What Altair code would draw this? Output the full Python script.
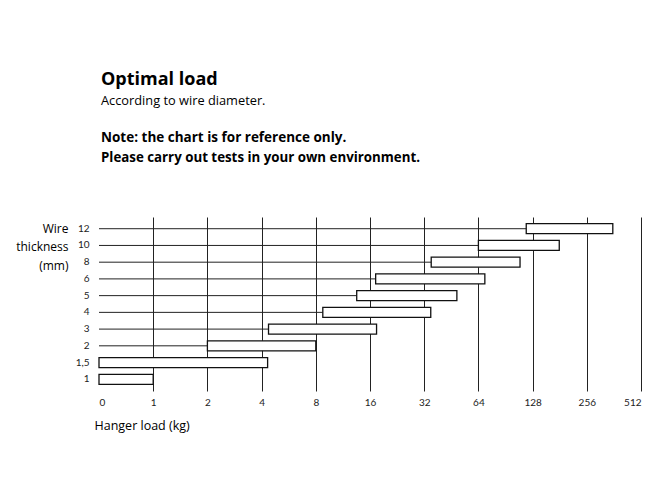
import altair as alt
import pandas as pd

# Wire thickness categories (top to bottom) and hanger load range (kg)
thickness = ["12", "10", "8", "6", "5", "4", "3", "2", "1,5", "1"]
load_min = [118, 64, 35, 17.2, 13.5, 8.75, 4.37, 2, 0, 0]
load_max = [357, 180, 109, 69.5, 48.6, 34.8, 17.4, 8, 4.32, 1]
tick_positions = list(range(0, 11))  # 0, 1, 2, 4, ... 512 on log2 steps

df = pd.DataFrame({"thickness": thickness, "lo": load_min, "hi": load_max})

FONT = "Open Sans"
LBL_FONT = "Lato"

label_expr = "datum.value == 0 ? '0' : '' + pow(2, datum.value - 1)"

x_scale = alt.Scale(domain=[0, 10], nice=False, zero=False)
y_scale = alt.Scale(paddingInner=0, paddingOuter=0.2)

base = alt.Chart(df).transform_calculate(
    p0="datum.lo <= 0 ? 0 : log(datum.lo) / LN2 + 1",
    p1="datum.hi <= 0 ? 0 : log(datum.hi) / LN2 + 1",
    zero="0",
)

y_enc = alt.Y(
    "thickness:N",
    sort=thickness,
    scale=y_scale,
    axis=alt.Axis(
        title=["Wire", "thickness", "(mm)"],
        titleAngle=0,
        titleAlign="right",
        titleBaseline="alphabetic",
        titleX=-31,
        titleY=15,
        titleLineHeight=18.5,
        titleFont=FONT,
        titleFontSize=12,
        titleFontWeight="normal",
        titleColor="#000",
        labelFont=LBL_FONT,
        labelFontSize=10,
        labelColor="#222",
        labelPadding=10,
        ticks=False,
        domain=False,
        grid=False,
    ),
)

x_axis = alt.Axis(
    values=tick_positions,
    labelExpr=label_expr,
    title="Hanger load (kg)",
    titleAlign="left",
    titleBaseline="alphabetic",
    titleX=-5,
    titleY=38,
    titleFont=FONT,
    titleFontSize=12.5,
    titleFontWeight="normal",
    titleColor="#000",
    labelFont=LBL_FONT,
    labelFontSize=10,
    labelColor="#222",
    labelPadding=6,
    ticks=False,
    domain=False,
    grid=True,
    gridColor="#222",
    gridWidth=1,
    gridOpacity={"condition": {"test": "datum.value == 0", "value": 0}, "value": 1},
)

rules = base.mark_rule(color="#222", strokeWidth=1).encode(
    x=alt.X("zero:Q", scale=x_scale, axis=x_axis),
    x2="p0:Q",
    y=y_enc,
)

bars = base.mark_bar(
    fill="white", stroke="#111", strokeWidth=1.3, size=10, cornerRadius=0
).encode(
    x=alt.X("p0:Q", scale=x_scale),
    x2="p1:Q",
    y=alt.Y("thickness:N", sort=thickness, scale=y_scale),
)

one = pd.DataFrame({"a": [0]})


def header(text, y, size, weight):
    return alt.Chart(one).mark_text(
        text=text,
        align="left",
        baseline="middle",
        font=FONT,
        fontSize=size,
        fontWeight=weight,
        color="#000",
    ).encode(x=alt.value(2), y=alt.value(y))


texts = (
    header("Optimal load", -137, 18, "bold")
    + header("According to wire diameter.", -116, 12.8, "normal")
    + header("Note: the chart is for reference only.", -79, 13.5, "bold")
    + header("Please carry out tests in your own environment.", -59, 13.3, "bold")
)

chart = (
    alt.layer(rules, bars, texts)
    .properties(
        width=542,
        height=174,
        autosize=alt.AutoSizeParams(type="none"),
        padding={"left": 91, "top": 209, "right": 17, "bottom": 93},
        background="white",
    )
    .configure_view(stroke=None)
)

chart.save("out.html", embed_options={"renderer": "svg", "actions": False})
